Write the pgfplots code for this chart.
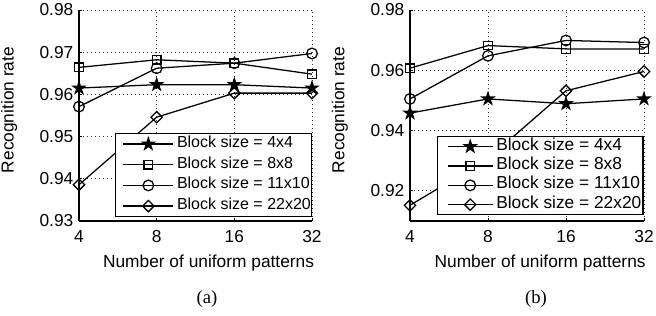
\documentclass[border=0pt]{standalone}
\usepackage{fontspec}
\setmainfont{Liberation Sans}
\newfontfamily\seriffont{Liberation Serif}
\usepackage{pgfplots}
\pgfplotsset{compat=1.18}
\newlength\px \setlength\px{0.75pt}

\pgfdeclareplotmark{pentagram}{%
 \pgfpathmoveto{\pgfpointpolar{90}{\pgfplotmarksize}}%
 \pgfpathlineto{\pgfpointpolar{126}{0.382\pgfplotmarksize}}%
 \pgfpathlineto{\pgfpointpolar{162}{\pgfplotmarksize}}%
 \pgfpathlineto{\pgfpointpolar{198}{0.382\pgfplotmarksize}}%
 \pgfpathlineto{\pgfpointpolar{234}{\pgfplotmarksize}}%
 \pgfpathlineto{\pgfpointpolar{270}{0.382\pgfplotmarksize}}%
 \pgfpathlineto{\pgfpointpolar{306}{\pgfplotmarksize}}%
 \pgfpathlineto{\pgfpointpolar{342}{0.382\pgfplotmarksize}}%
 \pgfpathlineto{\pgfpointpolar{18}{\pgfplotmarksize}}%
 \pgfpathlineto{\pgfpointpolar{54}{0.382\pgfplotmarksize}}%
 \pgfpathclose
 \pgfusepathqfillstroke}

\pgfplotsset{
 mystyle/.style={
  scale only axis, height=211\px,
  xmin=0, xmax=3,
  xtick={0,1,2,3}, xticklabels={4,8,16,32},
  axis x line=bottom, axis y line=left,
  axis line style={-, line width=0.9pt, black},
  tick align=inside, major tick length=3\px,
  tick style={black, line width=0.7pt},
  grid=major,
  major grid style={black!80, line width=0.6pt, dash pattern=on 0.6pt off 2.4pt},
  font=\fontsize{13pt}{15pt}\selectfont,
  /pgf/number format/assume math mode=true,
  yticklabel style={/pgf/number format/fixed, /pgf/number format/precision=2,
    /pgf/number format/fixed zerofill, xshift=-1\px},
  xticklabel style={yshift=-5\px},
  every axis plot/.append style={black, line width=0.95pt},
  clip=false,
  legend cell align=left,
  xlabel={Number of uniform patterns},
  ylabel={Recognition rate},
  xlabel style={at={(axis description cs:0.556,-0.2227)}, anchor=base},
  ylabel style={at={(axis description cs:-0.281,0.526)}, anchor=base},
 },
 starS/.style={mark=pentagram, mark size=4.6pt},
 sqS/.style={mark=square, mark size=3.2pt},
 ciS/.style={mark=o, mark size=4pt},
 diS/.style={mark=square, mark size=3pt, mark options={rotate=45}},
}

\begin{document}
\begin{tikzpicture}
\useasboundingbox (-79\px,-95\px) rectangle (577\px,221\px);
\begin{axis}[mystyle, name=a, width=233\px,
  ymin=0.93, ymax=0.98, ytick={0.93,0.94,0.95,0.96,0.97,0.98},
  legend style={at={(axis description cs:1.002,0.0175)}, anchor=south east,
    font=\fontsize{12pt}{14pt}\selectfont, draw=black, line width=0.9pt, fill=white,
    inner xsep=0.75pt, inner ysep=1.8pt, row sep=3.2pt, column sep=2.25pt,
    nodes={inner xsep=0pt, inner ysep=1.3pt, text height=0.75em, text depth=0.22em}},
  legend image code/.code={\path (0pt,0pt); \draw[mark repeat=2, mark phase=2, #1] plot coordinates {(4.5pt,0pt) (23.25pt,0pt) (42pt,0pt)};},
]
\addplot[starS] coordinates {(0,0.9615)(1,0.9623)(2,0.9623)(3,0.9615)};
\addplot[sqS] coordinates {(0,0.9664)(1,0.9682)(2,0.9674)(3,0.9648)};
\addplot[ciS] coordinates {(0,0.9571)(1,0.9662)(2,0.9674)(3,0.9697)};
\addplot[diS] coordinates {(0,0.9386)(1,0.9546)(2,0.9603)(3,0.9603)};
\legend{Block size = 4x4, Block size = 8x8, Block size = 11x10, Block size = 22x20}
\end{axis}
\begin{axis}[mystyle, name=b, width=234\px, at={(331\px,0)}, anchor=south west,
  ymin=0.91, ymax=0.98, ytick={0.92,0.94,0.96,0.98},
  legend style={at={(axis description cs:0.998,0.028)}, anchor=south east,
    font=\fontsize{13pt}{15pt}\selectfont, draw=black, line width=0.9pt, fill=white,
    inner xsep=1.2pt, inner ysep=1.2pt, row sep=2.2pt, column sep=2.25pt,
    nodes={inner xsep=0pt, inner ysep=1.3pt, text height=0.75em, text depth=0.22em}},
  legend image code/.code={\path (0pt,0pt); \draw[mark repeat=2, mark phase=2, #1] plot coordinates {(6pt,0pt) (22.9pt,0pt) (39.75pt,0pt)};},
]
\addplot[starS] coordinates {(0,0.9458)(1,0.9505)(2,0.9489)(3,0.9505)};
\addplot[sqS] coordinates {(0,0.9607)(1,0.9682)(2,0.9671)(3,0.9671)};
\addplot[ciS] coordinates {(0,0.9505)(1,0.9648)(2,0.9699)(3,0.9692)};
\addplot[diS] coordinates {(0,0.9152)(1,0.9307)(2,0.9532)(3,0.9596)};
\legend{Block size = 4x4, Block size = 8x8, Block size = 11x10, Block size = 22x20}
\end{axis}
\node[font=\seriffont\fontsize{14pt}{16pt}\selectfont, anchor=base] at ([xshift=128\px,yshift=-83\px]a.south west) {(a)};
\node[font=\seriffont\fontsize{14pt}{16pt}\selectfont, anchor=base] at ([xshift=126\px,yshift=-83\px]b.south west) {(b)};
\end{tikzpicture}
\end{document}
